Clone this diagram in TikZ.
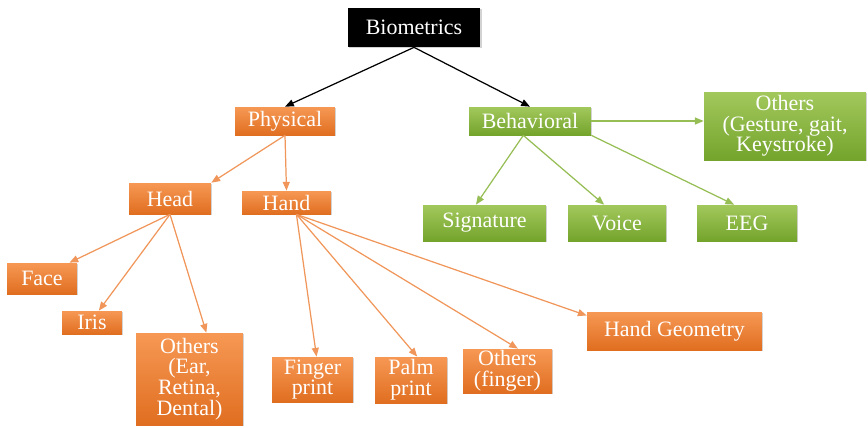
\documentclass[tikz,border=0pt]{standalone}
\usepackage{fontspec}
\setmainfont{Liberation Serif}
\usepackage{tikz}
\usetikzlibrary{arrows.meta, positioning, shadows}

\definecolor{orTop}{RGB}{246,152,84}
\definecolor{orBot}{RGB}{224,110,32}
\definecolor{orLine}{RGB}{240,150,90}
\definecolor{grTop}{RGB}{162,200,92}
\definecolor{grBot}{RGB}{116,164,44}
\definecolor{grLine}{RGB}{150,190,85}

\begin{document}
\begin{tikzpicture}[x=0.02cm,y=-0.02cm,
  box/.style={inner sep=0pt, align=center, text=white,
    font=\fontsize{12.5}{11.8}\selectfont,
    drop shadow={shadow xshift=0.6pt,shadow yshift=-0.8pt,opacity=0.35}},
  orbox/.style={box, top color=orTop, bottom color=orBot},
  grbox/.style={box, top color=grTop, bottom color=grBot},
  bkbox/.style={box, fill=black},
  link/.style={-{Triangle[length=5pt,width=4pt]}, line width=0.7pt}]
\useasboundingbox (0,0) rectangle (868,427);

\node[bkbox, minimum width=2.66cm, minimum height=0.78cm] (bio) at (414,27.5) {Biometrics};
\node[orbox, minimum width=2.00cm, minimum height=0.56cm] (phys) at (285,121) {Physical};
\node[grbox, minimum width=2.44cm, minimum height=0.56cm] (behav) at (530,121) {Behavioral};
\node[grbox, minimum width=3.24cm, minimum height=1.36cm] (othb) at (785,126) {Others\\(Gesture, gait,\\Keystroke)};
\node[grbox, minimum width=2.46cm, minimum height=0.72cm] (sig) at (484.5,223) {Signature};
\node[grbox, minimum width=1.96cm, minimum height=0.72cm] (voice) at (617,223) {Voice};
\node[grbox, minimum width=2.00cm, minimum height=0.72cm] (eeg) at (747,223) {EEG};
\node[orbox, minimum width=1.64cm, minimum height=0.62cm] (head) at (170,198.5) {Head};
\node[orbox, minimum width=1.78cm, minimum height=0.46cm] (hand) at (286.5,202.5) {Hand};
\node[orbox, minimum width=1.40cm, minimum height=0.62cm] (face) at (42,278.5) {Face};
\node[orbox, minimum width=1.20cm, minimum height=0.46cm] (iris) at (92,322.5) {Iris};
\node[orbox, minimum width=2.14cm, minimum height=1.84cm] (othh) at (189.5,379) {Others\\(Ear,\\Retina,\\Dental)};
\node[orbox, minimum width=1.62cm, minimum height=0.90cm] (fing) at (312.5,379.5) {Finger\\print};
\node[orbox, minimum width=1.44cm, minimum height=0.92cm] (palm) at (411,380) {Palm\\print};
\node[orbox, minimum width=1.78cm, minimum height=0.88cm] (othf) at (507.5,371) {Others\\(finger)};
\node[orbox, minimum width=3.50cm, minimum height=0.76cm] (hgeo) at (674.5,331) {Hand Geometry};

% top level
\draw[link] (bio.south) -- (phys.north);
\draw[link] (bio.south) -- (behav.north);
% physical
\draw[link, orLine] (phys.south) -- (head.north east);
\draw[link, orLine] (phys.south) -- (hand.north);
\draw[link, orLine] (head.south) -- (face.30);
\draw[link, orLine] (head.south) -- (iris.60);
\draw[link, orLine] (head.south) -- (othh.70);
\draw[link, orLine] (hand.-50) -- (fing.80);
\draw[link, orLine] (hand.-50) -- (palm.75);
\draw[link, orLine] (hand.-50) -- (othf.65);
\draw[link, orLine] (hand.-50) -- (hgeo.170);
% behavioral
\draw[link, grLine] (behav.east) -- (behav.east -| othb.west);
\draw[link, grLine] (behav.-115) -- (sig.115);
\draw[link, grLine] (behav.-115) -- (voice.125);
\draw[link, grLine] (behav.south east) -- (eeg.125);
\end{tikzpicture}
\end{document}
